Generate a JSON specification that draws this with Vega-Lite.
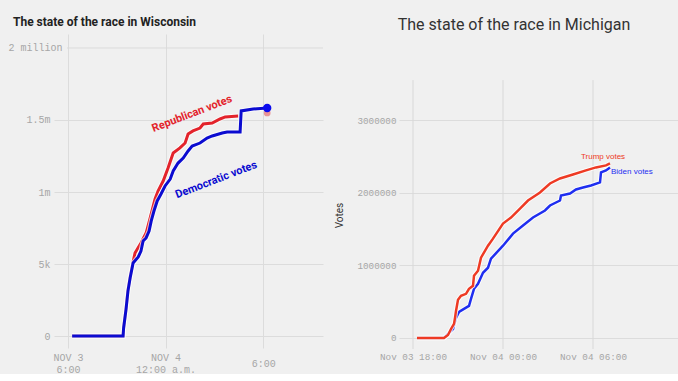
{
  "$schema": "https://vega.github.io/schema/vega-lite/v6.json",
  "background": "#f0f0f0",
  "padding": {"left": 8, "top": 16, "right": 0, "bottom": 0},
  "spacing": 10,
  "config": {
    "view": {"stroke": null},
    "axis": {"gridColor": "#dcdcdc", "gridWidth": 1, "domain": false, "ticks": false, "labelFont": "Liberation Mono", "labelColor": "#a6a6a6", "labelFlush": false, "labelOverlap": false}
  },
  "datasets": {
    "wi": [
      {"s": "rep", "t": "2020-11-03T18:15", "v": 0},
      {"s": "rep", "t": "2020-11-03T21:23", "v": 0},
      {"s": "rep", "t": "2020-11-03T21:25", "v": 56000},
      {"s": "rep", "t": "2020-11-03T21:34", "v": 190000},
      {"s": "rep", "t": "2020-11-03T21:41", "v": 320000},
      {"s": "rep", "t": "2020-11-03T21:49", "v": 410000},
      {"s": "rep", "t": "2020-11-03T22:00", "v": 515000},
      {"s": "rep", "t": "2020-11-03T22:07", "v": 576000},
      {"s": "rep", "t": "2020-11-03T22:29", "v": 646000},
      {"s": "rep", "t": "2020-11-03T22:48", "v": 715000},
      {"s": "rep", "t": "2020-11-03T23:03", "v": 820000},
      {"s": "rep", "t": "2020-11-03T23:21", "v": 951000},
      {"s": "rep", "t": "2020-11-03T23:32", "v": 1007000},
      {"s": "rep", "t": "2020-11-03T23:51", "v": 1076000},
      {"s": "rep", "t": "2020-11-04T00:09", "v": 1167000},
      {"s": "rep", "t": "2020-11-04T00:28", "v": 1271000},
      {"s": "rep", "t": "2020-11-04T00:53", "v": 1306000},
      {"s": "rep", "t": "2020-11-04T01:12", "v": 1340000},
      {"s": "rep", "t": "2020-11-04T01:23", "v": 1403000},
      {"s": "rep", "t": "2020-11-04T01:41", "v": 1424000},
      {"s": "rep", "t": "2020-11-04T02:07", "v": 1444000},
      {"s": "rep", "t": "2020-11-04T02:19", "v": 1472000},
      {"s": "rep", "t": "2020-11-04T02:52", "v": 1479000},
      {"s": "rep", "t": "2020-11-04T03:21", "v": 1507000},
      {"s": "rep", "t": "2020-11-04T03:40", "v": 1521000},
      {"s": "rep", "t": "2020-11-04T04:28", "v": 1528000},
      {"s": "dem", "t": "2020-11-03T18:15", "v": 0},
      {"s": "dem", "t": "2020-11-03T21:23", "v": 0},
      {"s": "dem", "t": "2020-11-03T21:25", "v": 56000},
      {"s": "dem", "t": "2020-11-03T21:34", "v": 187000},
      {"s": "dem", "t": "2020-11-03T21:41", "v": 312000},
      {"s": "dem", "t": "2020-11-03T21:49", "v": 403000},
      {"s": "dem", "t": "2020-11-03T22:00", "v": 507000},
      {"s": "dem", "t": "2020-11-03T22:19", "v": 549000},
      {"s": "dem", "t": "2020-11-03T22:29", "v": 590000},
      {"s": "dem", "t": "2020-11-03T22:37", "v": 660000},
      {"s": "dem", "t": "2020-11-03T22:48", "v": 681000},
      {"s": "dem", "t": "2020-11-03T22:59", "v": 729000},
      {"s": "dem", "t": "2020-11-03T23:07", "v": 799000},
      {"s": "dem", "t": "2020-11-03T23:17", "v": 868000},
      {"s": "dem", "t": "2020-11-03T23:29", "v": 938000},
      {"s": "dem", "t": "2020-11-03T23:43", "v": 986000},
      {"s": "dem", "t": "2020-11-03T23:58", "v": 1042000},
      {"s": "dem", "t": "2020-11-04T00:17", "v": 1090000},
      {"s": "dem", "t": "2020-11-04T00:28", "v": 1146000},
      {"s": "dem", "t": "2020-11-04T00:46", "v": 1201000},
      {"s": "dem", "t": "2020-11-04T01:05", "v": 1236000},
      {"s": "dem", "t": "2020-11-04T01:23", "v": 1285000},
      {"s": "dem", "t": "2020-11-04T01:38", "v": 1319000},
      {"s": "dem", "t": "2020-11-04T02:07", "v": 1340000},
      {"s": "dem", "t": "2020-11-04T02:33", "v": 1375000},
      {"s": "dem", "t": "2020-11-04T02:52", "v": 1389000},
      {"s": "dem", "t": "2020-11-04T03:29", "v": 1410000},
      {"s": "dem", "t": "2020-11-04T03:47", "v": 1417000},
      {"s": "dem", "t": "2020-11-04T04:35", "v": 1417000},
      {"s": "dem", "t": "2020-11-04T04:39", "v": 1563000},
      {"s": "dem", "t": "2020-11-04T05:23", "v": 1576000},
      {"s": "dem", "t": "2020-11-04T06:15", "v": 1583000}
    ],
    "wi_dots": [
      {"s": "rep", "t": "2020-11-04T06:15", "v": 1549000},
      {"s": "dem", "t": "2020-11-04T06:15", "v": 1583000}
    ],
    "wi_rule": [
      {"t": "2020-11-03T17:56", "t2": "2020-11-04T09:41", "v": 2000000}
    ],
    "wi_labels": [
      {"s": "rep", "label": "Republican votes", "t": "2020-11-04T01:38", "v": 1542000},
      {"s": "dem", "label": "Democratic votes", "t": "2020-11-04T03:07", "v": 1083000}
    ],
    "mi_grid": [
      {"t": "2020-11-03T18:00", "v": 3555000, "v2": -152000},
      {"t": "2020-11-04T00:00", "v": 3555000, "v2": -152000},
      {"t": "2020-11-04T06:00", "v": 3555000, "v2": -152000}
    ],
    "mi": [
      {"s": "trump", "t": "2020-11-03T18:16", "v": 0},
      {"s": "trump", "t": "2020-11-03T20:04", "v": 0},
      {"s": "trump", "t": "2020-11-03T20:20", "v": 41000},
      {"s": "trump", "t": "2020-11-03T20:32", "v": 124000},
      {"s": "trump", "t": "2020-11-03T20:44", "v": 194000},
      {"s": "trump", "t": "2020-11-03T20:48", "v": 277000},
      {"s": "trump", "t": "2020-11-03T20:52", "v": 373000},
      {"s": "trump", "t": "2020-11-03T21:00", "v": 526000},
      {"s": "trump", "t": "2020-11-03T21:12", "v": 581000},
      {"s": "trump", "t": "2020-11-03T21:32", "v": 609000},
      {"s": "trump", "t": "2020-11-03T21:44", "v": 678000},
      {"s": "trump", "t": "2020-11-03T22:00", "v": 719000},
      {"s": "trump", "t": "2020-11-03T22:04", "v": 858000},
      {"s": "trump", "t": "2020-11-03T22:20", "v": 927000},
      {"s": "trump", "t": "2020-11-03T22:32", "v": 1107000},
      {"s": "trump", "t": "2020-11-03T23:00", "v": 1272000},
      {"s": "trump", "t": "2020-11-03T23:20", "v": 1369000},
      {"s": "trump", "t": "2020-11-04T00:00", "v": 1577000},
      {"s": "trump", "t": "2020-11-04T00:32", "v": 1660000},
      {"s": "trump", "t": "2020-11-04T01:08", "v": 1784000},
      {"s": "trump", "t": "2020-11-04T01:40", "v": 1895000},
      {"s": "trump", "t": "2020-11-04T02:28", "v": 2006000},
      {"s": "trump", "t": "2020-11-04T03:08", "v": 2130000},
      {"s": "trump", "t": "2020-11-04T03:48", "v": 2199000},
      {"s": "trump", "t": "2020-11-04T04:40", "v": 2254000},
      {"s": "trump", "t": "2020-11-04T05:32", "v": 2310000},
      {"s": "trump", "t": "2020-11-04T06:12", "v": 2351000},
      {"s": "trump", "t": "2020-11-04T06:52", "v": 2379000},
      {"s": "trump", "t": "2020-11-04T07:08", "v": 2407000},
      {"s": "biden", "t": "2020-11-03T18:16", "v": 0},
      {"s": "biden", "t": "2020-11-03T20:04", "v": 0},
      {"s": "biden", "t": "2020-11-03T20:24", "v": 69000},
      {"s": "biden", "t": "2020-11-03T20:40", "v": 124000},
      {"s": "biden", "t": "2020-11-03T20:52", "v": 277000},
      {"s": "biden", "t": "2020-11-03T21:04", "v": 360000},
      {"s": "biden", "t": "2020-11-03T21:24", "v": 401000},
      {"s": "biden", "t": "2020-11-03T21:44", "v": 443000},
      {"s": "biden", "t": "2020-11-03T21:52", "v": 539000},
      {"s": "biden", "t": "2020-11-03T22:04", "v": 678000},
      {"s": "biden", "t": "2020-11-03T22:20", "v": 747000},
      {"s": "biden", "t": "2020-11-03T22:40", "v": 899000},
      {"s": "biden", "t": "2020-11-03T23:00", "v": 968000},
      {"s": "biden", "t": "2020-11-03T23:12", "v": 1093000},
      {"s": "biden", "t": "2020-11-04T00:00", "v": 1272000},
      {"s": "biden", "t": "2020-11-04T00:40", "v": 1438000},
      {"s": "biden", "t": "2020-11-04T01:20", "v": 1549000},
      {"s": "biden", "t": "2020-11-04T02:00", "v": 1660000},
      {"s": "biden", "t": "2020-11-04T02:48", "v": 1757000},
      {"s": "biden", "t": "2020-11-04T03:08", "v": 1826000},
      {"s": "biden", "t": "2020-11-04T03:48", "v": 1895000},
      {"s": "biden", "t": "2020-11-04T03:52", "v": 1964000},
      {"s": "biden", "t": "2020-11-04T04:28", "v": 1992000},
      {"s": "biden", "t": "2020-11-04T04:52", "v": 2047000},
      {"s": "biden", "t": "2020-11-04T05:20", "v": 2075000},
      {"s": "biden", "t": "2020-11-04T05:52", "v": 2102000},
      {"s": "biden", "t": "2020-11-04T06:28", "v": 2144000},
      {"s": "biden", "t": "2020-11-04T06:32", "v": 2282000},
      {"s": "biden", "t": "2020-11-04T06:52", "v": 2310000},
      {"s": "biden", "t": "2020-11-04T07:08", "v": 2351000}
    ],
    "mi_labels": [
      {"s": "trump", "label": "Trump votes", "t": "2020-11-04T06:40", "v": 2490000},
      {"s": "biden", "label": "Biden votes", "t": "2020-11-04T07:12", "v": 2282000}
    ]
  },
  "hconcat": [
    {
      "width": 269,
      "height": 314,
      "title": {"text": "The state of the race in Wisconsin", "anchor": "start", "frame": "group", "dx": -41, "offset": 5, "font": "Roboto", "fontSize": 12, "fontWeight": "bold", "color": "#222222"},
      "encoding": {
        "x": {
          "field": "t", "type": "temporal",
          "scale": {"domain": [{"year": 2020, "month": 11, "date": 3, "hours": 17, "minutes": 8}, {"year": 2020, "month": 11, "date": 4, "hours": 9, "minutes": 41}]},
          "axis": {
            "title": null,
            "values": [{"year": 2020, "month": 11, "date": 3, "hours": 18}, {"year": 2020, "month": 11, "date": 4, "hours": 0}, {"year": 2020, "month": 11, "date": 4, "hours": 6}],
            "labelExpr": "hours(datum.value) == 18 ? ['NOV 3', '6:00'] : (hours(datum.value) == 0 ? ['NOV 4', '12:00 a.m.'] : '6:00')",
            "labelBaseline": "middle", "labelLineHeight": 12, "labelFontSize": 10,
            "labelPadding": {"condition": {"test": "hours(datum.value) == 6", "value": 15}, "value": 9}
          }
        },
        "y": {
          "field": "v", "type": "quantitative",
          "scale": {"domain": [-83000, 2097000], "nice": false, "zero": false},
          "axis": {
            "title": null,
            "values": [0, 500000, 1000000, 1500000, 2000000],
            "labelExpr": "datum.value == 0 ? '0' : (datum.value == 500000 ? '5k' : (datum.value == 1000000 ? '1m' : (datum.value == 1500000 ? '1.5m' : '2 million')))",
            "labelFontSize": 10,
            "labelAlign": {"condition": {"test": "datum.value == 2000000", "value": "left"}, "value": "right"},
            "labelPadding": {"condition": {"test": "datum.value == 2000000", "value": 46}, "value": 4},
            "gridOpacity": {"condition": {"test": "datum.value == 2000000", "value": 0}, "value": 1}
          }
        }
      },
      "layer": [
        {"data": {"name": "wi_rule"}, "mark": {"type": "rule", "color": "#dcdcdc", "strokeWidth": 1}, "encoding": {"x2": {"field": "t2"}}},
        {"data": {"name": "wi"}, "transform": [{"filter": "datum.s == 'rep'"}], "mark": {"type": "line", "interpolate": "linear", "stroke": "#ffffff", "strokeWidth": 5, "opacity": 0.7}, "encoding": {}},
        {"data": {"name": "wi"}, "transform": [{"filter": "datum.s == 'rep'"}], "mark": {"type": "line", "interpolate": "linear", "stroke": "#e3232b", "strokeWidth": 3}, "encoding": {}},
        {"data": {"name": "wi"}, "transform": [{"filter": "datum.s == 'dem'"}], "mark": {"type": "line", "interpolate": "linear", "stroke": "#ffffff", "strokeWidth": 5, "opacity": 0.7}, "encoding": {}},
        {"data": {"name": "wi"}, "transform": [{"filter": "datum.s == 'dem'"}], "mark": {"type": "line", "interpolate": "linear", "stroke": "#0b0bd0", "strokeWidth": 3}, "encoding": {}},
        {"data": {"name": "wi_dots"}, "transform": [{"filter": "datum.s == 'rep'"}], "mark": {"type": "point", "filled": true, "color": "#e3232b", "opacity": 0.45, "size": 45}, "encoding": {}},
        {"data": {"name": "wi_dots"}, "transform": [{"filter": "datum.s == 'dem'"}], "mark": {"type": "point", "filled": true, "color": "#0b0bee", "opacity": 1, "size": 70}, "encoding": {}},
        {"data": {"name": "wi_labels"}, "transform": [{"filter": "datum.s == 'rep'"}], "mark": {"type": "text", "angle": 339, "font": "Roboto", "fontWeight": "bold", "fontSize": 11, "color": "#e3232b"}, "encoding": {"text": {"field": "label"}}},
        {"data": {"name": "wi_labels"}, "transform": [{"filter": "datum.s == 'dem'"}], "mark": {"type": "text", "angle": 339, "font": "Roboto", "fontWeight": "bold", "fontSize": 11, "color": "#0b0bd0"}, "encoding": {"text": {"field": "label"}}}
      ]
    },
    {
      "width": 282,
      "height": 315,
      "title": {"text": "The state of the race in Michigan", "anchor": "middle", "frame": "group", "dx": -26, "offset": 1, "font": "Roboto", "fontSize": 16, "fontWeight": "normal", "color": "#333333"},
      "encoding": {
        "x": {
          "field": "t", "type": "temporal",
          "scale": {"domain": [{"year": 2020, "month": 11, "date": 3, "hours": 17, "minutes": 4}, {"year": 2020, "month": 11, "date": 4, "hours": 11, "minutes": 52}]},
          "axis": {
            "title": null,
            "grid": false,
            "values": [{"year": 2020, "month": 11, "date": 3, "hours": 18}, {"year": 2020, "month": 11, "date": 4, "hours": 0}, {"year": 2020, "month": 11, "date": 4, "hours": 6}],
            "format": "%b %d %H:%M",
            "labelFontSize": 9.3, "labelPadding": 3
          }
        },
        "y": {
          "field": "v", "type": "quantitative",
          "scale": {"domain": [-152000, 4190000], "nice": false, "zero": false},
          "axis": {
            "title": "Votes", "titleFont": "Roboto", "titleFontSize": 10, "titleFontWeight": "normal", "titleColor": "#333333",
            "titleAngle": 270, "titleBaseline": "bottom", "titleAlign": "center", "titleX": -55, "titleY": 181,
            "values": [0, 1000000, 2000000, 3000000],
            "format": "d",
            "labelFontSize": 9.3, "labelPadding": 3
          }
        }
      },
      "layer": [
        {"data": {"name": "mi_grid"}, "mark": {"type": "rule", "color": "#d8d8d8", "strokeWidth": 1}, "encoding": {"y2": {"field": "v2"}}},
        {"data": {"name": "mi"}, "transform": [{"filter": "datum.s == 'biden'"}], "mark": {"type": "line", "interpolate": "linear", "stroke": "#ffffff", "strokeWidth": 4.5, "opacity": 0.8}, "encoding": {}},
        {"data": {"name": "mi"}, "transform": [{"filter": "datum.s == 'biden'"}], "mark": {"type": "line", "interpolate": "linear", "stroke": "#1f2ef0", "strokeWidth": 2.5}, "encoding": {}},
        {"data": {"name": "mi"}, "transform": [{"filter": "datum.s == 'trump'"}], "mark": {"type": "line", "interpolate": "linear", "stroke": "#ffffff", "strokeWidth": 4.5, "opacity": 0.8}, "encoding": {}},
        {"data": {"name": "mi"}, "transform": [{"filter": "datum.s == 'trump'"}], "mark": {"type": "line", "interpolate": "linear", "stroke": "#ee3a24", "strokeWidth": 2.5}, "encoding": {}},
        {"data": {"name": "mi_labels"}, "transform": [{"filter": "datum.s == 'trump'"}], "mark": {"type": "text", "align": "center", "baseline": "middle", "font": "Liberation Sans", "fontSize": 8, "color": "#ee3a24"}, "encoding": {"text": {"field": "label"}}},
        {"data": {"name": "mi_labels"}, "transform": [{"filter": "datum.s == 'biden'"}], "mark": {"type": "text", "align": "left", "baseline": "middle", "font": "Liberation Sans", "fontSize": 8, "color": "#1f2ef0"}, "encoding": {"text": {"field": "label"}}}
      ]
    }
  ]
}
